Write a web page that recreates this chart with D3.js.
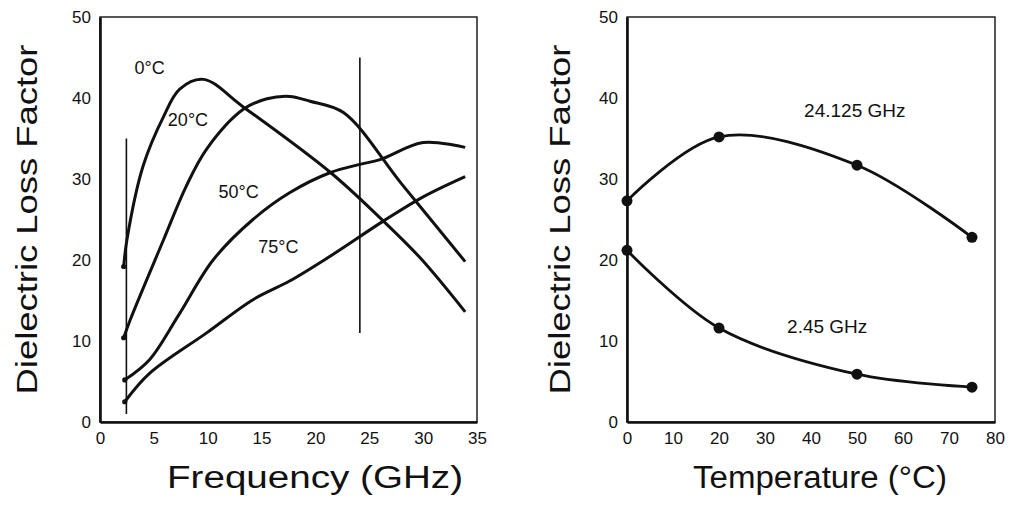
<html>
<head>
<script src="https://d3js.org/d3.v7.min.js"></script>
<style>
body { margin: 0; background: #fff; }
text { font-family: 'Liberation Sans', Arial, sans-serif; fill: #111; }
</style>
</head>
<body>
<div id="plot"></div>
<script>
var width = 1018, height = 506;

// left panel: loss factor vs frequency, one curve per temperature
var freqTicks = [0, 5, 10, 15, 20, 25, 30, 35];
var lossTicks = [0, 10, 20, 30, 40, 50];
var tempLabels = ["0°C", "20°C", "50°C", "75°C"];
var curve0 = [[2.2, 19.2], [2.5, 22.5], [4, 31.6], [5.9, 37.7], [7.4, 41.1], [9.6, 42.3], [13.3, 38.9], [21.4, 30.8], [26, 25.2], [29.7, 20.3], [33.9, 13.6]];
var curve20 = [[2.2, 10.4], [2.8, 12.6], [5.9, 22.5], [8, 29.1], [9.9, 33.7], [13.3, 38.6], [15.5, 39.9], [17.6, 40.2], [19.5, 39.6], [22.6, 38.2], [28, 29.4], [33.9, 19.8]];
var curve50 = [[2.3, 5.2], [4.6, 7.7], [7.3, 13.2], [10.5, 20], [14.2, 25], [17.6, 28.3], [21.4, 30.8], [24.1, 31.8], [26, 32.4], [30, 34.5], [33.9, 33.9]];
var curve75 = [[2.3, 2.5], [4.6, 6], [9.9, 11], [14.2, 15.1], [17.6, 17.4], [21.4, 20.5], [26.3, 24.8], [30, 27.8], [33.9, 30.3]];
var tempLabelPos = [[3.2, 43], [6.3, 36.5], [11, 27.7], [14.7, 20.9]];
// the two marked frequencies
var markFreqs = [2.45, 24.125];
var markSpans = [[1, 35], [11, 45]];

// right panel: loss factor vs temperature at the two frequencies
var tempTicks = [0, 10, 20, 30, 40, 50, 60, 70, 80];
var temps = [0, 20, 50, 75];
var loss24 = [27.3, 35.2, 31.7, 22.8];
var loss245 = [21.2, 11.6, 5.9, 4.3];
var freqLabels = ["24.125 GHz", "2.45 GHz"];
var freqLabelPos = [[38.5, 37.6], [34.8, 11]];

var svg = d3.select("#plot").append("svg").attr("width", width).attr("height", height);

function panel(left, right, xDomain, xTicks, xTitle, titleX, titleLen, yTitleX) {
	var x = d3.scaleLinear().domain(xDomain).range([left, right]);
	var y = d3.scaleLinear().domain([0, 50]).range([422, 17]);
	var g = svg.append("g");

	// frame
	g.append("rect").attr("x", left).attr("y", y(50))
	.attr("width", right - left).attr("height", y(0) - y(50))
	.attr("fill", "none").attr("stroke", "#111").attr("stroke-width", 1.4);

	var xAxis = g.append("g").attr("transform", "translate(0," + y(0) + ")")
	.call(d3.axisBottom(x).tickValues(xTicks).tickSize(0).tickPadding(10));
	var yAxis = g.append("g").attr("transform", "translate(" + left + ",0)")
	.call(d3.axisLeft(y).tickValues(lossTicks).tickSize(0).tickPadding(9));
	[xAxis, yAxis].forEach(function (a) {
		a.select(".domain").attr("stroke", "#111").attr("stroke-width", 2.6);
		a.selectAll("text").style("font-size", "17px").attr("fill", "#111");
	});

	g.append("text").attr("x", titleX).attr("y", 488)
	.attr("text-anchor", "middle").style("font-size", "31px")
	.attr("textLength", titleLen).attr("lengthAdjust", "spacingAndGlyphs")
	.text(xTitle);
	g.append("text")
	.attr("transform", "translate(" + yTitleX + "," + y(25) + ") rotate(-90)")
	.attr("text-anchor", "middle").style("font-size", "30px")
	.attr("textLength", 350).attr("lengthAdjust", "spacingAndGlyphs")
	.text("Dielectric Loss Factor");

	return { g: g, x: x, y: y };
}

// ---- left ----
var L = panel(100, 477, [0, 35], freqTicks, "Frequency (GHz)", 315, 296, 37);

L.g.selectAll(".mark").data(markFreqs).enter().append("line")
.attr("x1", function (d) { return L.x(d); })
.attr("x2", function (d) { return L.x(d); })
.attr("y1", function (d, i) { return L.y(markSpans[i][1]); })
.attr("y2", function (d, i) { return L.y(markSpans[i][0]); })
.attr("stroke", "#111").attr("stroke-width", 1.6);

var freqLine = d3.line()
.x(function (d) { return L.x(d[0]); })
.y(function (d) { return L.y(d[1]); })
.curve(d3.curveCatmullRom.alpha(0.5));

var curves = [curve0, curve20, curve50, curve75];
L.g.selectAll(".curve").data(curves).enter().append("path")
.attr("d", freqLine).attr("fill", "none")
.attr("stroke", "#111").attr("stroke-width", 3);

L.g.selectAll(".start").data(curves).enter().append("circle")
.attr("cx", function (d) { return L.x(d[0][0]); })
.attr("cy", function (d) { return L.y(d[0][1]); })
.attr("r", 2.6).attr("fill", "#111");

L.g.selectAll(".tlab").data(tempLabels).enter().append("text")
.attr("x", function (d, i) { return L.x(tempLabelPos[i][0]); })
.attr("y", function (d, i) { return L.y(tempLabelPos[i][1]); })
.style("font-size", "18px").text(function (d) { return d; });

// ---- right ----
var R = panel(627, 995, [0, 80], tempTicks, "Temperature (°C)", 820, 254, 570);

var tempLine = d3.line()
.x(function (d) { return R.x(d[0]); })
.y(function (d) { return R.y(d[1]); })
.curve(d3.curveCatmullRom.alpha(0.5));

[loss24, loss245].forEach(function (series, k) {
	var pts = temps.map(function (t, i) { return [t, series[i]]; });
	R.g.append("path").attr("d", tempLine(pts)).attr("fill", "none")
	.attr("stroke", "#111").attr("stroke-width", 2.8);
	R.g.selectAll(".dot" + k).data(pts).enter().append("circle")
	.attr("cx", function (d) { return R.x(d[0]); })
	.attr("cy", function (d) { return R.y(d[1]); })
	.attr("r", 5.5).attr("fill", "#111");
});

R.g.selectAll(".flab").data(freqLabels).enter().append("text")
.attr("x", function (d, i) { return R.x(freqLabelPos[i][0]); })
.attr("y", function (d, i) { return R.y(freqLabelPos[i][1]); })
.style("font-size", "19px").text(function (d) { return d; });
</script>
</body>
</html>
